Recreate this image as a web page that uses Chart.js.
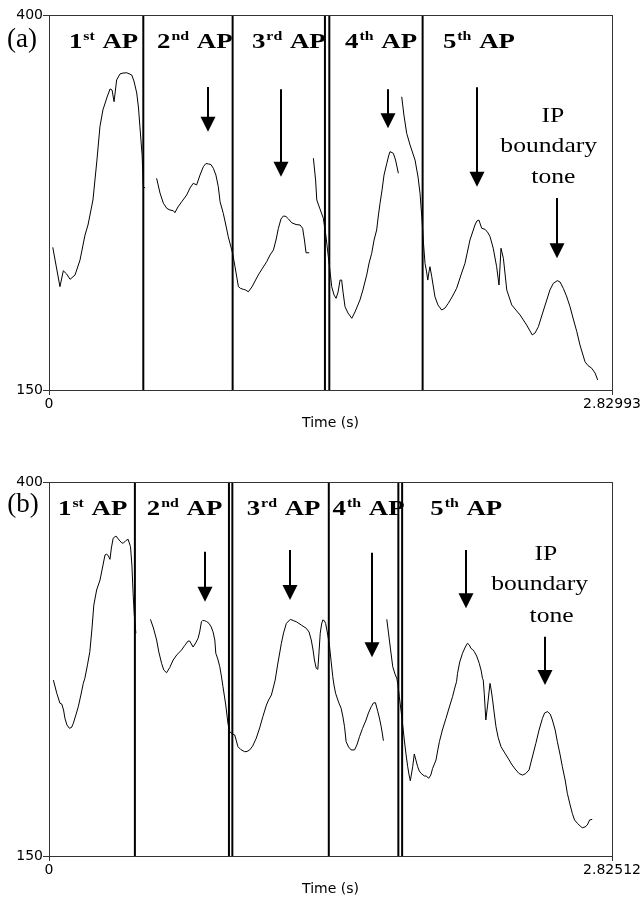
<!DOCTYPE html>
<html>
<head>
<meta charset="utf-8">
<script src="https://cdn.jsdelivr.net/npm/chart.js@4.4.0/dist/chart.umd.min.js"></script>
<style>
  html, body { margin: 0; padding: 0; background: #fff; }
  #wrap { position: relative; width: 641px; height: 899px; }
  canvas { position: absolute; left: 0; }
  #cA { top: 0; }
  #cB { top: 460px; }
</style>
</head>
<body>
<div id="wrap">
  <canvas id="cA" width="641" height="440"></canvas>
  <canvas id="cB" width="641" height="439"></canvas>
</div>
<script>
// F0 contours, [time (s), F0 (Hz)] - one array per voiced stretch
const contourA1 = [[0.019,245.1],[0.055,218.9],[0.072,229.5],[0.089,227.3],[0.106,223.8],[0.131,226.7],[0.156,236.7],[0.181,253.3],[0.196,260.0],[0.221,276.7],[0.241,303.3],[0.256,325.5],[0.271,336.7],[0.292,345.3],[0.307,350.7],[0.317,350.0],[0.327,342.2],[0.340,356.7],[0.357,360.7],[0.372,361.3],[0.391,361.5],[0.416,360.0],[0.427,356.0],[0.441,348.0],[0.450,338.0],[0.457,325.5],[0.468,306.7],[0.474,285.5],[0.483,284.7]];
const contourA2 = [[0.541,291.1],[0.558,281.3],[0.575,274.5],[0.592,271.1],[0.608,270.0],[0.625,269.5],[0.633,268.2],[0.648,272.0],[0.667,275.5],[0.692,280.0],[0.709,284.7],[0.725,287.8],[0.742,286.7],[0.759,293.3],[0.776,298.9],[0.789,301.0],[0.801,300.7],[0.814,300.3],[0.826,297.8],[0.839,293.3],[0.851,285.5],[0.860,275.5],[0.876,267.8],[0.890,259.3],[0.901,252.2],[0.923,241.1],[0.935,232.2],[0.952,218.9],[0.963,217.7],[0.977,217.1],[0.988,216.7],[1.002,215.5],[1.020,218.7],[1.052,226.7],[1.071,230.7],[1.094,235.5],[1.111,240.0],[1.128,243.3],[1.141,250.0],[1.153,257.8],[1.166,264.0],[1.178,266.0],[1.191,265.7],[1.204,264.0],[1.220,261.5],[1.242,260.3],[1.262,260.0],[1.275,257.8],[1.284,250.0],[1.292,241.5],[1.308,241.5]];
const contourA3 = [[1.329,304.5],[1.340,290.0],[1.346,276.7],[1.362,270.7],[1.379,264.5],[1.392,252.7],[1.404,238.9],[1.413,228.7],[1.421,218.9],[1.433,213.3],[1.443,211.1],[1.453,215.3],[1.463,223.3],[1.471,223.3],[1.478,215.3],[1.488,205.5],[1.503,201.3],[1.522,197.8],[1.538,202.0],[1.563,210.0],[1.578,216.7],[1.597,226.7],[1.609,234.7],[1.622,241.1],[1.634,250.0],[1.647,256.7],[1.656,266.7],[1.664,274.5],[1.674,283.3],[1.684,293.3],[1.698,301.1],[1.707,306.0],[1.714,308.9],[1.731,307.8],[1.742,303.3],[1.756,294.5]];
const contourA4 = [[1.773,345.5],[1.784,333.3],[1.798,321.1],[1.815,313.3],[1.840,303.3],[1.855,292.0],[1.865,281.1],[1.875,263.3],[1.883,246.7],[1.890,234.5],[1.898,228.7],[1.904,223.3],[1.910,228.7],[1.915,232.2],[1.924,225.5],[1.933,218.0],[1.940,212.2],[1.955,206.7],[1.974,203.3],[1.991,204.7],[2.007,207.8],[2.026,212.0],[2.049,217.8],[2.071,226.7],[2.091,234.5],[2.116,250.0],[2.141,260.0],[2.151,262.7],[2.161,263.3],[2.175,257.8],[2.192,257.1],[2.207,254.7],[2.217,252.2],[2.233,244.5],[2.250,232.2],[2.262,220.0],[2.272,244.5],[2.284,237.8],[2.301,216.7],[2.326,206.7],[2.347,203.3],[2.368,200.0],[2.401,193.3],[2.429,186.7],[2.443,188.0],[2.460,192.2],[2.478,200.0],[2.502,210.0],[2.518,216.7],[2.535,221.1],[2.555,222.9],[2.569,222.0],[2.585,217.8],[2.601,212.7],[2.619,205.5],[2.634,198.0],[2.653,188.9],[2.669,180.0],[2.694,168.9],[2.709,166.3],[2.728,164.5],[2.745,161.3],[2.758,156.7]];

const contourB1 = [[0.022,267.6],[0.039,258.8],[0.055,252.1],[0.064,251.6],[0.073,247.6],[0.080,242.0],[0.090,237.6],[0.102,235.4],[0.113,235.9],[0.122,238.7],[0.135,244.3],[0.147,249.8],[0.160,257.6],[0.172,265.4],[0.180,268.8],[0.193,277.7],[0.205,286.6],[0.215,301.1],[0.225,317.8],[0.239,327.8],[0.256,334.5],[0.268,342.5],[0.281,351.2],[0.289,351.9],[0.298,350.5],[0.306,348.3],[0.313,355.9],[0.322,362.4],[0.336,363.9],[0.352,361.2],[0.363,359.6],[0.372,359.0],[0.386,360.9],[0.397,361.7],[0.409,356.8],[0.416,344.5],[0.422,325.6],[0.428,311.1],[0.436,298.9]];
const contourB2 = [[0.509,308.2],[0.524,302.4],[0.540,294.4],[0.551,286.4],[0.565,278.8],[0.576,274.3],[0.590,272.5],[0.606,276.0],[0.623,281.0],[0.641,284.4],[0.665,287.7],[0.681,290.7],[0.698,293.7],[0.706,293.7],[0.723,289.7],[0.736,292.4],[0.748,295.5],[0.756,299.7],[0.765,306.6],[0.771,307.4],[0.781,307.3],[0.791,306.7],[0.803,305.5],[0.814,303.1],[0.823,299.9],[0.832,294.4],[0.837,285.5],[0.847,281.7],[0.857,276.5],[0.865,270.3],[0.873,263.2],[0.887,250.9],[0.898,238.7],[0.907,233.1],[0.919,231.6],[0.932,230.9],[0.939,227.5],[0.948,223.1],[0.962,221.2],[0.982,219.7],[0.994,219.9],[1.007,220.9],[1.022,223.5],[1.040,228.7],[1.057,235.6],[1.073,243.1],[1.091,250.9],[1.102,254.3],[1.116,257.6],[1.125,262.3],[1.135,267.6],[1.147,277.7],[1.166,292.2],[1.177,299.1],[1.191,305.5],[1.211,308.2],[1.225,307.4],[1.241,306.6],[1.266,304.4],[1.291,302.2],[1.305,299.7],[1.316,294.4],[1.325,287.7],[1.332,281.0],[1.341,275.5],[1.349,274.8],[1.355,286.4],[1.361,298.9],[1.368,305.1],[1.374,307.8],[1.381,307.4],[1.388,305.5],[1.398,298.4],[1.408,289.9],[1.415,281.0],[1.424,269.9],[1.430,264.3],[1.438,258.8],[1.453,252.9],[1.466,248.7],[1.475,242.9],[1.483,236.4],[1.491,226.4],[1.503,222.9],[1.516,220.9],[1.533,220.9],[1.545,224.2],[1.558,229.7],[1.573,235.2],[1.591,240.9],[1.603,245.6],[1.617,249.8],[1.628,252.3],[1.638,252.5],[1.650,246.5],[1.658,242.2],[1.667,236.4],[1.673,231.6],[1.678,227.1]];
const contourB3 = [[1.695,308.2],[1.703,299.7],[1.713,289.0],[1.725,276.5],[1.736,271.7],[1.745,268.8],[1.750,265.4],[1.758,256.5],[1.771,242.2],[1.783,227.5],[1.792,217.5],[1.800,209.7],[1.806,204.8],[1.813,200.3],[1.818,204.1],[1.825,209.7],[1.833,218.2],[1.841,214.2],[1.850,209.7],[1.858,206.8],[1.867,205.3],[1.883,203.5],[1.893,203.5],[1.905,201.9],[1.916,204.1],[1.925,208.6],[1.934,211.5],[1.942,214.2],[1.951,220.9],[1.959,226.4],[1.974,234.2],[1.992,242.0],[2.009,249.6],[2.025,256.5],[2.036,262.3],[2.045,266.5],[2.050,272.1],[2.061,279.7],[2.075,285.5],[2.089,289.7],[2.100,292.2],[2.109,291.1],[2.117,288.8],[2.126,288.0],[2.134,286.6],[2.146,283.7],[2.159,278.8],[2.169,273.7],[2.175,268.8],[2.179,267.6],[2.184,258.8],[2.192,240.9],[2.201,250.9],[2.213,265.4],[2.219,261.0],[2.226,254.3],[2.234,245.6],[2.243,236.4],[2.254,229.2],[2.268,223.1],[2.287,218.9],[2.309,214.2],[2.324,210.8],[2.343,207.5],[2.359,205.1],[2.376,204.1],[2.392,205.1],[2.409,207.5],[2.424,215.5],[2.443,225.3],[2.459,234.2],[2.476,242.0],[2.487,245.6],[2.501,246.5],[2.515,244.9],[2.526,240.9],[2.540,234.2],[2.551,226.4],[2.565,217.5],[2.576,209.7],[2.590,200.8],[2.601,191.9],[2.615,184.1],[2.626,178.5],[2.637,174.1],[2.651,171.9],[2.665,170.1],[2.676,168.9],[2.690,169.4],[2.701,170.7],[2.713,174.1],[2.726,174.5]];

// accent phrase boundaries (s)
const boundsA = [0.474, 0.923, 1.387, 1.409, 1.878];
const boundsB = [0.431, 0.903, 0.920, 1.404, 1.753, 1.772];

// axis ticks
const yTicks = [150, 400];
const xEndA = 2.82993;
const xEndB = 2.82512;

// labels
const apNums = ['1', '2', '3', '4', '5'];
const apSups = ['st', 'nd', 'rd', 'th', 'th'];
const ipLines = ['IP', 'boundary', 'tone'];

// where the notes sit, in data units (s, Hz)
const notesA = {
  panel: { text: '(a)', t: -0.211, hz: 378.7 },
  apLeft: [0.100, 0.543, 1.020, 1.488, 1.980], apHz: 377.8,
  arrows: [[0.801, 352.0, 322.2], [1.166, 350.5, 292.2], [1.706, 350.5, 324.5], [2.150, 351.8, 285.5], [2.552, 278.0, 237.8]],
  ipPos: [[2.533, 328.9], [2.512, 308.7], [2.535, 288.2]]
};
const notesB = {
  panel: { text: '(b)', t: -0.210, hz: 379.7 },
  apLeft: [0.045, 0.491, 0.992, 1.423, 1.913], apHz: 377.9,
  arrows: [[0.781, 353.4, 320.0], [1.211, 354.5, 321.1], [1.621, 352.7, 282.8], [2.092, 354.5, 315.6], [2.490, 296.6, 264.3]],
  ipPos: [[2.493, 347.9], [2.462, 327.8], [2.522, 306.6]]
};

const SERIF = '"Liberation Serif", "Times New Roman", serif';
const SX = 1.22; // the source figure is a bit wide

function stretchText(ctx, txt, px, py, sx, align) {
  ctx.save();
  ctx.translate(px, py);
  ctx.scale(sx, 1);
  ctx.textAlign = align || 'left';
  ctx.fillText(txt, 0, 0);
  ctx.restore();
}

function drawAP(ctx, px, py, num, sup) {
  ctx.font = 'bold 22px ' + SERIF;
  stretchText(ctx, num, px, py, SX);
  let cx = px + ctx.measureText(num).width * SX + 1;
  ctx.font = 'bold 13px ' + SERIF;
  stretchText(ctx, sup, cx, py - 8, SX);
  cx += ctx.measureText(sup).width * SX + 1;
  ctx.font = 'bold 22px ' + SERIF;
  stretchText(ctx, ' AP', cx, py, SX);
}

function drawArrow(ctx, px, y0, y1) {
  ctx.lineWidth = 2;
  ctx.beginPath();
  ctx.moveTo(px, y0);
  ctx.lineTo(px, y1 - 12);
  ctx.stroke();
  ctx.beginPath();
  ctx.moveTo(px - 7.5, y1 - 15);
  ctx.lineTo(px + 7.5, y1 - 15);
  ctx.lineTo(px, y1);
  ctx.closePath();
  ctx.fill();
}

const notesPlugin = {
  id: 'notes',
  afterDatasetsDraw(chart, args, o) {
    const { ctx, chartArea: a } = chart;
    const x = chart.scales.x, y = chart.scales.y;
    const n = o.notes;
    ctx.save();
    ctx.strokeStyle = '#333';
    ctx.lineWidth = 1;
    ctx.strokeRect(a.left + 0.5, a.top + 0.5, a.right - a.left, a.bottom - a.top);

    ctx.fillStyle = '#000';
    ctx.strokeStyle = '#000';
    ctx.textBaseline = 'alphabetic';

    ctx.font = '27px ' + SERIF;
    stretchText(ctx, n.panel.text, x.getPixelForValue(n.panel.t), y.getPixelForValue(n.panel.hz), 1.0);

    apNums.forEach((num, i) => {
      drawAP(ctx, x.getPixelForValue(n.apLeft[i]), y.getPixelForValue(n.apHz), num, apSups[i]);
    });

    n.arrows.forEach(([t, h0, h1]) => {
      drawArrow(ctx, Math.round(x.getPixelForValue(t)), y.getPixelForValue(h0), y.getPixelForValue(h1));
    });

    ctx.font = '21px ' + SERIF;
    ipLines.forEach((line, i) => {
      const [t, h] = n.ipPos[i];
      stretchText(ctx, line, x.getPixelForValue(t), y.getPixelForValue(h), SX, 'center');
    });
    ctx.restore();
  }
};

function contourSets(segs) {
  return segs.map(s => ({
    data: s.map(p => ({ x: p[0], y: p[1] })),
    borderColor: '#000', borderWidth: 1, pointRadius: 0, showLine: true, tension: 0
  }));
}

function boundarySets(bs) {
  return bs.map(b => ({
    data: [{ x: b, y: yTicks[0] }, { x: b, y: yTicks[1] }],
    borderColor: '#000', borderWidth: 2, pointRadius: 0, showLine: true
  }));
}

function makePanel(id, segs, bounds, xEnd, notes, padTop, xHeight, titlePad) {
  const tickFont = { family: '"DejaVu Sans", Arial, sans-serif', size: 14 };
  return new Chart(document.getElementById(id), {
    type: 'scatter',
    data: { datasets: contourSets(segs).concat(boundarySets(bounds)) },
    options: {
      responsive: false,
      animation: false,
      devicePixelRatio: 1,
      layout: { padding: { left: 0, right: 641 - 612, top: padTop, bottom: 0 } },
      plugins: { legend: { display: false }, tooltip: { enabled: false }, notes: { notes: notes } },
      scales: {
        x: {
          type: 'linear', min: 0, max: xEnd,
          afterBuildTicks: s => { s.ticks = [{ value: 0 }, { value: xEnd }]; },
          afterFit: s => { s.height = xHeight; s.paddingLeft = 0; s.paddingRight = 0; },
          ticks: { color: '#000', font: tickFont, padding: 1, maxRotation: 0, autoSkip: false, callback: v => String(v) },
          grid: { drawOnChartArea: false, drawTicks: true, tickLength: 5, color: '#333' },
          border: { display: false },
          title: { display: true, text: 'Time (s)', color: '#000', font: tickFont, padding: { top: 0, bottom: titlePad } }
        },
        y: {
          type: 'linear', min: yTicks[0], max: yTicks[1],
          afterBuildTicks: s => { s.ticks = yTicks.map(v => ({ value: v })); },
          afterFit: s => { s.width = 49; s.paddingTop = 0; s.paddingBottom = 0; },
          ticks: { color: '#000', font: tickFont, padding: 0, autoSkip: false, callback: v => String(v) },
          grid: { drawOnChartArea: false, drawTicks: true, tickLength: 6, color: '#333' },
          border: { display: false }
        }
      }
    },
    plugins: [notesPlugin]
  });
}

makePanel('cA', [contourA1, contourA2, contourA3, contourA4], boundsA, xEndA, notesA, 15, 50, 8.6);
makePanel('cB', [contourB1, contourB2, contourB3], boundsB, xEndB, notesB, 22, 43, 1.6);
</script>
</body>
</html>
